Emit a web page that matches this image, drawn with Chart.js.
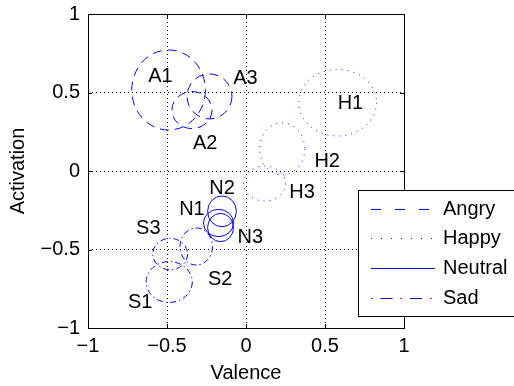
<!DOCTYPE html>
<html><head><meta charset="utf-8">
<script src="https://cdn.jsdelivr.net/npm/chart.js@4"></script>
<style>html,body{margin:0;padding:0;background:#fff}#wrap{width:514px;height:386px}</style>
</head><body><div id="wrap"><canvas id="c" width="514" height="386"></canvas></div>
<script>
const categories = ['Angry', 'Happy', 'Neutral', 'Sad'];
const tickValues = [-1, -0.5, 0, 0.5, 1];

const angryNames = ['A1', 'A2', 'A3'];
const angryCx = [-0.49, -0.342, -0.231];
const angryCy = [0.516, 0.388, 0.475];
const angryRx = [0.233, 0.127, 0.142];
const angryRy = [0.255, 0.118, 0.143];
const angryLabelX = [-0.542, -0.258, -0.004];
const angryLabelY = [0.599, 0.176, 0.592];

const happyNames = ['H1', 'H2', 'H3'];
const happyCx = [0.58, 0.229, 0.117];
const happyCy = [0.435, 0.141, -0.08];
const happyRx = [0.246, 0.143, 0.133];
const happyRy = [0.212, 0.166, 0.111];
const happyLabelX = [0.661, 0.514, 0.355];
const happyLabelY = [0.431, 0.059, -0.136];

const neutralNames = ['N1', 'N2', 'N3'];
const neutralCx = [-0.174, -0.152, -0.161];
const neutralCy = [-0.331, -0.257, -0.36];
const neutralRx = [0.095, 0.091, 0.082];
const neutralRy = [0.087, 0.098, 0.09];
const neutralLabelX = [-0.342, -0.152, 0.027];
const neutralLabelY = [-0.244, -0.11, -0.422];

const sadNames = ['S1', 'S2', 'S3'];
const sadCx = [-0.486, -0.315, -0.48];
const sadCy = [-0.707, -0.481, -0.529];
const sadRx = [0.146, 0.103, 0.11];
const sadRy = [0.13, 0.118, 0.1];
const sadLabelX = [-0.67, -0.163, -0.618];
const sadLabelY = [-0.839, -0.694, -0.365];

const groups = [
  {names: angryNames, cx: angryCx, cy: angryCy, rx: angryRx, ry: angryRy, lx: angryLabelX, ly: angryLabelY},
  {names: happyNames, cx: happyCx, cy: happyCy, rx: happyRx, ry: happyRy, lx: happyLabelX, ly: happyLabelY},
  {names: neutralNames, cx: neutralCx, cy: neutralCy, rx: neutralRx, ry: neutralRy, lx: neutralLabelX, ly: neutralLabelY},
  {names: sadNames, cx: sadCx, cy: sadCy, rx: sadRx, ry: sadRy, lx: sadLabelX, ly: sadLabelY}
];
const plotDash = [[9, 6], [1, 5], [], [6, 3, 1.5, 3]];
const legendDash = [[10, 14], [1, 9], [], [1.5, 8, 12, 8]];
const BLUE = '#0000ff';
const FAMILY = '"Liberation Sans", Arial, sans-serif';
const FONT = '20px ' + FAMILY;

const fmt = v => (v < 0 ? '\u2212' + String(Math.abs(v)) : String(v));

const overlay = {
  id: 'overlay',
  afterDatasetsDraw(chart) {
    const {ctx, chartArea: a} = chart;
    const x = chart.scales.x, y = chart.scales.y;
    ctx.save();
    ctx.beginPath();
    ctx.rect(a.left, a.top, a.right - a.left, a.bottom - a.top);
    ctx.clip();
    ctx.strokeStyle = BLUE;
    ctx.lineWidth = 1;
    groups.forEach((g, gi) => {
      ctx.setLineDash(plotDash[gi]);
      g.cx.forEach((cx, i) => {
        const px = x.getPixelForValue(cx);
        const py = y.getPixelForValue(g.cy[i]);
        const rx = Math.abs(x.getPixelForValue(cx + g.rx[i]) - px);
        const ry = Math.abs(y.getPixelForValue(g.cy[i] + g.ry[i]) - py);
        ctx.beginPath();
        ctx.ellipse(px, py, rx, ry, 0, 0, Math.PI * 2);
        ctx.stroke();
      });
    });
    ctx.setLineDash([]);
    ctx.fillStyle = '#000';
    ctx.font = FONT;
    ctx.textAlign = 'center';
    ctx.textBaseline = 'middle';
    groups.forEach(g => {
      g.names.forEach((n, i) => {
        ctx.fillText(n, x.getPixelForValue(g.lx[i]), y.getPixelForValue(g.ly[i]));
      });
    });
    ctx.restore();

    // frame and inward ticks
    ctx.save();
    ctx.strokeStyle = '#000';
    ctx.lineWidth = 1;
    ctx.strokeRect(Math.round(a.left) + 0.5, Math.round(a.top) + 0.5, Math.round(a.right - a.left), Math.round(a.bottom - a.top));
    ctx.beginPath();
    tickValues.forEach(v => {
      const px = Math.round(x.getPixelForValue(v)) + 0.5;
      ctx.moveTo(px, a.bottom); ctx.lineTo(px, a.bottom - 4);
      ctx.moveTo(px, a.top); ctx.lineTo(px, a.top + 4);
      const py = Math.round(y.getPixelForValue(v)) + 0.5;
      ctx.moveTo(a.left, py); ctx.lineTo(a.left + 4, py);
      ctx.moveTo(a.right, py); ctx.lineTo(a.right - 4, py);
    });
    ctx.stroke();

    // legend
    const lx = 358.5, ly = 190.5, lw = 170, lh = 126;
    ctx.fillStyle = '#fff';
    ctx.fillRect(lx, ly, lw, lh);
    ctx.strokeRect(lx, ly, lw, lh);
    const rows = [209, 238, 268, 298];
    ctx.font = FONT;
    ctx.textAlign = 'left';
    ctx.textBaseline = 'middle';
    categories.forEach((c, i) => {
      ctx.strokeStyle = BLUE;
      ctx.setLineDash(legendDash[i]);
      ctx.beginPath();
      ctx.moveTo(371, rows[i] + 0.5);
      ctx.lineTo(435, rows[i] + 0.5);
      ctx.stroke();
      ctx.setLineDash([]);
      ctx.fillStyle = '#000';
      ctx.fillText(c, 443, rows[i]);
    });
    ctx.restore();
  }
};

const datasets = groups.map((g, gi) => ({
  label: categories[gi],
  data: g.cx.map((cx, i) => ({x: cx, y: g.cy[i]})),
  pointRadius: 0,
  showLine: false
}));

new Chart(document.getElementById('c'), {
  type: 'scatter',
  data: {datasets},
  options: {
    responsive: false,
    animation: false,
    events: [],
    layout: {padding: {left: 0, right: 110, top: 14, bottom: 0}},
    plugins: {legend: {display: false}, tooltip: {enabled: false}},
    scales: {
      x: {
        type: 'linear', min: -1, max: 1,
        afterBuildTicks: s => { s.ticks = tickValues.map(v => ({value: v})); },
        afterFit: s => { s.height = 58; s.paddingLeft = 0; s.paddingRight = 0; },
        ticks: {color: '#000', font: {family: FAMILY, size: 20}, padding: 6, maxRotation: 0, callback: v => fmt(v)},
        grid: {color: '#000', lineWidth: 1, drawTicks: false},
        border: {display: false, dash: [1, 3]},
        title: {display: true, text: 'Valence', color: '#000', font: {family: FAMILY, size: 20}, padding: {top: 0, bottom: 1}}
      },
      y: {
        type: 'linear', min: -1, max: 1,
        afterBuildTicks: s => { s.ticks = tickValues.map(v => ({value: v})); },
        afterFit: s => { s.width = 88; s.paddingTop = 0; s.paddingBottom = 0; },
        ticks: {color: '#000', font: {family: FAMILY, size: 20}, padding: 8, callback: v => fmt(v)},
        grid: {color: '#000', lineWidth: 1, drawTicks: false},
        border: {display: false, dash: [1, 3]},
        title: {display: true, text: 'Activation', color: '#000', font: {family: FAMILY, size: 20}, padding: {top: 6, bottom: 0}}
      }
    }
  },
  plugins: [overlay]
});
</script>
</body></html>
